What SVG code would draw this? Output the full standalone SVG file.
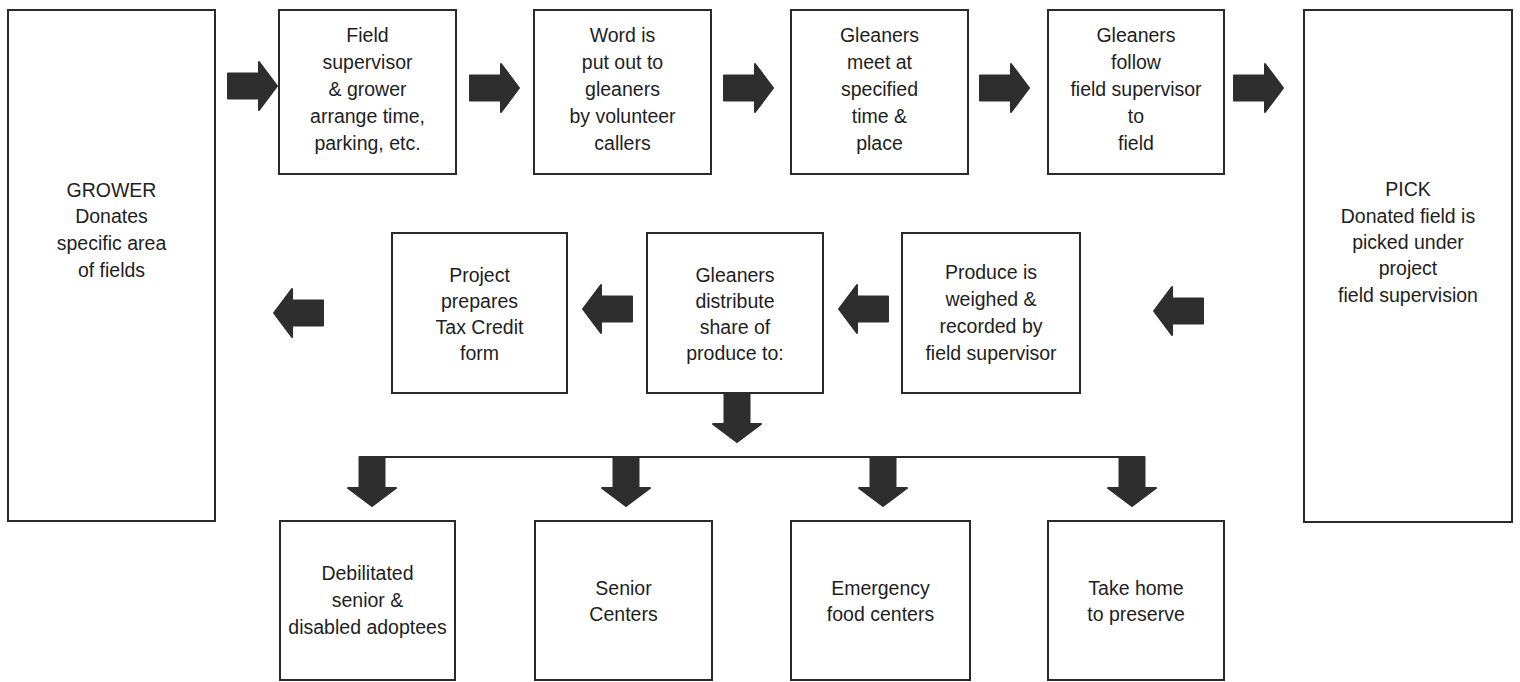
<svg xmlns="http://www.w3.org/2000/svg" xmlns:xlink="http://www.w3.org/1999/xlink" width="1520" height="682" viewBox="0 0 1520 682">
<style>
.box{fill:#fff;stroke:#2a2a2a;stroke-width:2}
.t{font-family:"Liberation Sans",Arial,sans-serif;font-size:19.5px;fill:#1e1e1e;text-anchor:middle}
.ar{fill:#2e2e2e;stroke:#2e2e2e;stroke-width:2;stroke-linejoin:round}
.ln{stroke:#2a2a2a;stroke-width:2;fill:none}
</style>
<defs>
<path id="arr" class="ar" d="M0,-12.5 L31,-12.5 L31,-24 L49,0 L31,24 L31,12.5 L0,12.5 Z"/>
</defs>
<rect width="1520" height="682" fill="#fff"/>

<g id="grower"><rect class="box" x="8" y="10" width="207" height="511"/>
<text class="t" x="111.5"><tspan x="111.5" y="197">GROWER</tspan><tspan x="111.5" y="223">Donates</tspan><tspan x="111.5" y="250">specific area</tspan><tspan x="111.5" y="277">of fields</tspan></text></g>

<g id="arrange"><rect class="box" x="279" y="10" width="177" height="164"/>
<text class="t"><tspan x="367.5" y="42">Field</tspan><tspan x="367.5" y="69">supervisor</tspan><tspan x="367.5" y="96">&amp; grower</tspan><tspan x="367.5" y="123">arrange time,</tspan><tspan x="367.5" y="150">parking, etc.</tspan></text></g>

<g id="word"><rect class="box" x="534" y="10" width="177" height="164"/>
<text class="t"><tspan x="622.5" y="42">Word is</tspan><tspan x="622.5" y="69">put out to</tspan><tspan x="622.5" y="96">gleaners</tspan><tspan x="622.5" y="123">by volunteer</tspan><tspan x="622.5" y="150">callers</tspan></text></g>

<g id="meet"><rect class="box" x="791" y="10" width="177" height="164"/>
<text class="t"><tspan x="879.5" y="42">Gleaners</tspan><tspan x="879.5" y="69">meet at</tspan><tspan x="879.5" y="96">specified</tspan><tspan x="879.5" y="123">time &amp;</tspan><tspan x="879.5" y="150">place</tspan></text></g>

<g id="follow"><rect class="box" x="1048" y="10" width="176" height="164"/>
<text class="t"><tspan x="1136" y="42">Gleaners</tspan><tspan x="1136" y="69">follow</tspan><tspan x="1136" y="96">field supervisor</tspan><tspan x="1136" y="123">to</tspan><tspan x="1136" y="150">field</tspan></text></g>

<g id="pick"><rect class="box" x="1304" y="10" width="208" height="512"/>
<text class="t"><tspan x="1408" y="196">PICK</tspan><tspan x="1408" y="223">Donated field is</tspan><tspan x="1408" y="249">picked under</tspan><tspan x="1408" y="275">project</tspan><tspan x="1408" y="302">field supervision</tspan></text></g>

<g id="produce"><rect class="box" x="902" y="233" width="178" height="160"/>
<text class="t"><tspan x="991" y="279">Produce is</tspan><tspan x="991" y="306">weighed &amp;</tspan><tspan x="991" y="333">recorded by</tspan><tspan x="991" y="360">field supervisor</tspan></text></g>

<g id="distribute"><rect class="box" x="647" y="233" width="176" height="160"/>
<text class="t"><tspan x="735" y="282">Gleaners</tspan><tspan x="735" y="308">distribute</tspan><tspan x="735" y="334">share of</tspan><tspan x="735" y="360">produce to:</tspan></text></g>

<g id="taxcredit"><rect class="box" x="392" y="233" width="175" height="160"/>
<text class="t"><tspan x="479.5" y="282">Project</tspan><tspan x="479.5" y="308">prepares</tspan><tspan x="479.5" y="334">Tax Credit</tspan><tspan x="479.5" y="360">form</tspan></text></g>

<g id="adoptees"><rect class="box" x="280" y="521" width="175" height="159"/>
<text class="t"><tspan x="367.5" y="580">Debilitated</tspan><tspan x="367.5" y="607">senior &amp;</tspan><tspan x="367.5" y="634">disabled adoptees</tspan></text></g>

<g id="senior"><rect class="box" x="535" y="521" width="177" height="159"/>
<text class="t"><tspan x="623.5" y="595">Senior</tspan><tspan x="623.5" y="621">Centers</tspan></text></g>

<g id="emergency"><rect class="box" x="791" y="521" width="179" height="159"/>
<text class="t"><tspan x="880.5" y="595">Emergency</tspan><tspan x="880.5" y="621">food centers</tspan></text></g>

<g id="preserve"><rect class="box" x="1048" y="521" width="176" height="159"/>
<text class="t"><tspan x="1136" y="595">Take home</tspan><tspan x="1136" y="621">to preserve</tspan></text></g>

<g id="connectors">
<use xlink:href="#arr" href="#arr" transform="translate(228,86)"/>
<use xlink:href="#arr" href="#arr" transform="translate(470,88)"/>
<use xlink:href="#arr" href="#arr" transform="translate(724,88)"/>
<use xlink:href="#arr" href="#arr" transform="translate(980,88)"/>
<use xlink:href="#arr" href="#arr" transform="translate(1234,88)"/>
<use xlink:href="#arr" href="#arr" transform="translate(1203,311) rotate(180)"/>
<use xlink:href="#arr" href="#arr" transform="translate(888,309) rotate(180)"/>
<use xlink:href="#arr" href="#arr" transform="translate(632,309) rotate(180)"/>
<use xlink:href="#arr" href="#arr" transform="translate(323,313) rotate(180)"/>
<use xlink:href="#arr" href="#arr" transform="translate(737,393) rotate(90)"/>
<path class="ln" d="M364,457 H1142"/>
<use xlink:href="#arr" href="#arr" transform="translate(372,457) rotate(90)"/>
<use xlink:href="#arr" href="#arr" transform="translate(626,457) rotate(90)"/>
<use xlink:href="#arr" href="#arr" transform="translate(883,457) rotate(90)"/>
<use xlink:href="#arr" href="#arr" transform="translate(1132,457) rotate(90)"/>
</g>
</svg>
